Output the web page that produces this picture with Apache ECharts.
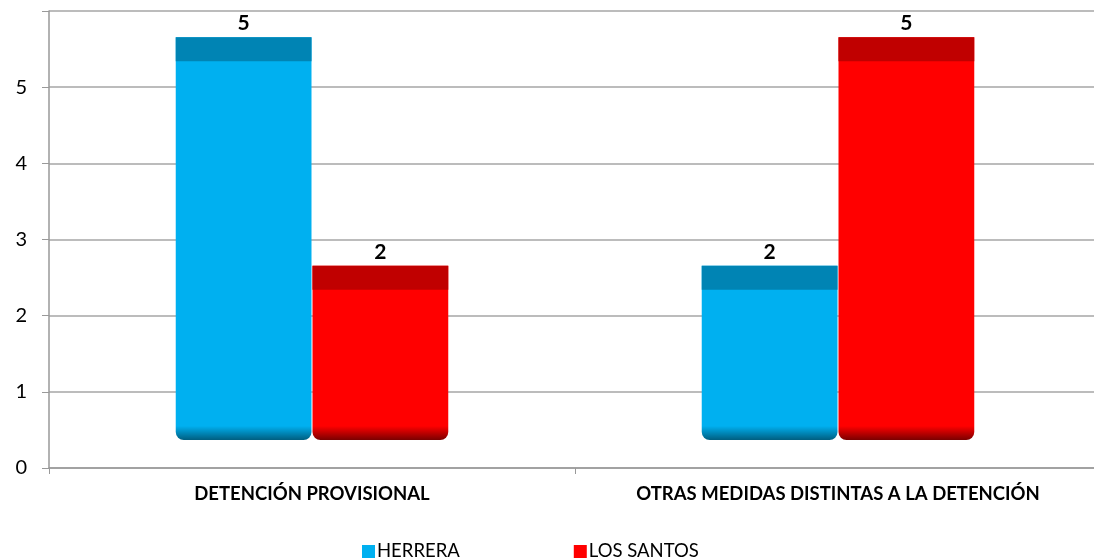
<!DOCTYPE html>
<html><head><meta charset="utf-8">
<script src="https://cdn.jsdelivr.net/npm/echarts@6/dist/echarts.min.js"></script>
<style>html,body{margin:0;padding:0;background:#fff}#c{width:1094px;height:559px}</style>
</head><body><div id="c"></div>
<script>
var categories = ['DETENCIÓN PROVISIONAL', 'OTRAS MEDIDAS DISTINTAS A LA DETENCIÓN'];
var herrera = [5, 2];
var losSantos = [2, 5];
var yTicks = [0, 1, 2, 3, 4, 5, 6];

var FONT = 'Lato, "Open Sans", sans-serif';
var chart = echarts.init(document.getElementById('c'));

function makeRender(side, mainColor, capColor, darkColor) {
  return function (params, api) {
    var idx = api.value(0), v = api.value(1);
    var pTop = api.coord([idx, v]);
    var p0 = api.coord([idx, 0]);
    var band = api.size([1, 0])[0];
    var w = band * 0.26;
    var x = side < 0 ? pTop[0] - w : pTop[0];
    var top = pTop[1] - 50;
    var bottom = p0[1] - 28;
    var h = bottom - top;
    var capH = 24;
    var fadeFrac = 1 - 14 / h;
    return {
      type: 'group',
      children: [
        { type: 'rect', shape: { x: x + 0.5, y: top, width: w - 1, height: h, r: [0, 0, 8, 8] },
          style: { fill: new echarts.graphic.LinearGradient(0, 0, 0, 1, [
            { offset: 0, color: mainColor }, { offset: fadeFrac, color: mainColor }, { offset: 1, color: darkColor }
          ]) } },
        { type: 'rect', shape: { x: x + 0.5, y: top, width: w - 1, height: capH },
          style: { fill: capColor } },
        { type: 'text', x: x + w / 2, y: top - 3,
          style: { text: String(v), fill: '#000', font: 'bold 21px ' + FONT, align: 'center', verticalAlign: 'bottom' } }
      ]
    };
  };
}

function toData(arr) { return arr.map(function (v, i) { return [i, v]; }); }

chart.setOption({
  animation: false,
  grid: { left: 49, right: -7, top: 11, bottom: 91, containLabel: false, outerBoundsMode: 'none' },
  legend: {
    top: 537, left: 357, itemGap: 114, itemWidth: 13, itemHeight: 13, icon: 'rect',
    textStyle: { fontFamily: FONT, fontSize: 18.5, color: '#000', padding: [0, 0, 0, -3] },
    data: ['HERRERA', 'LOS SANTOS']
  },
  xAxis: {
    type: 'category', data: categories,
    axisLine: { lineStyle: { color: '#999', width: 1.5 } },
    axisTick: { show: true, length: 6, lineStyle: { color: '#999' } },
    axisLabel: { fontFamily: FONT, fontWeight: 'bold', fontSize: 18.5, color: '#000', margin: 17 }
  },
  yAxis: {
    type: 'value', min: yTicks[0], max: yTicks[yTicks.length - 1], interval: 1,
    axisLine: { show: true, lineStyle: { color: '#999', width: 1.5 } },
    axisTick: { show: true, length: 7, lineStyle: { color: '#999' } },
    axisLabel: { fontFamily: FONT, fontSize: 20, color: '#000', margin: 22,
      formatter: function (v) { return v === 6 ? '' : String(v); } },
    splitLine: { lineStyle: { color: '#a6a6a6', width: 1.5 } }
  },
  series: [
    { name: 'HERRERA', type: 'custom', itemStyle: { color: '#00B0F0' },
      renderItem: makeRender(-1, '#00B0F0', '#0084B4', '#005E80'), encode: { x: 0, y: 1 }, data: toData(herrera) },
    { name: 'LOS SANTOS', type: 'custom', itemStyle: { color: '#FF0000' },
      renderItem: makeRender(1, '#FF0000', '#C00000', '#7A0000'), encode: { x: 0, y: 1 }, data: toData(losSantos) }
  ]
});
</script></body></html>
